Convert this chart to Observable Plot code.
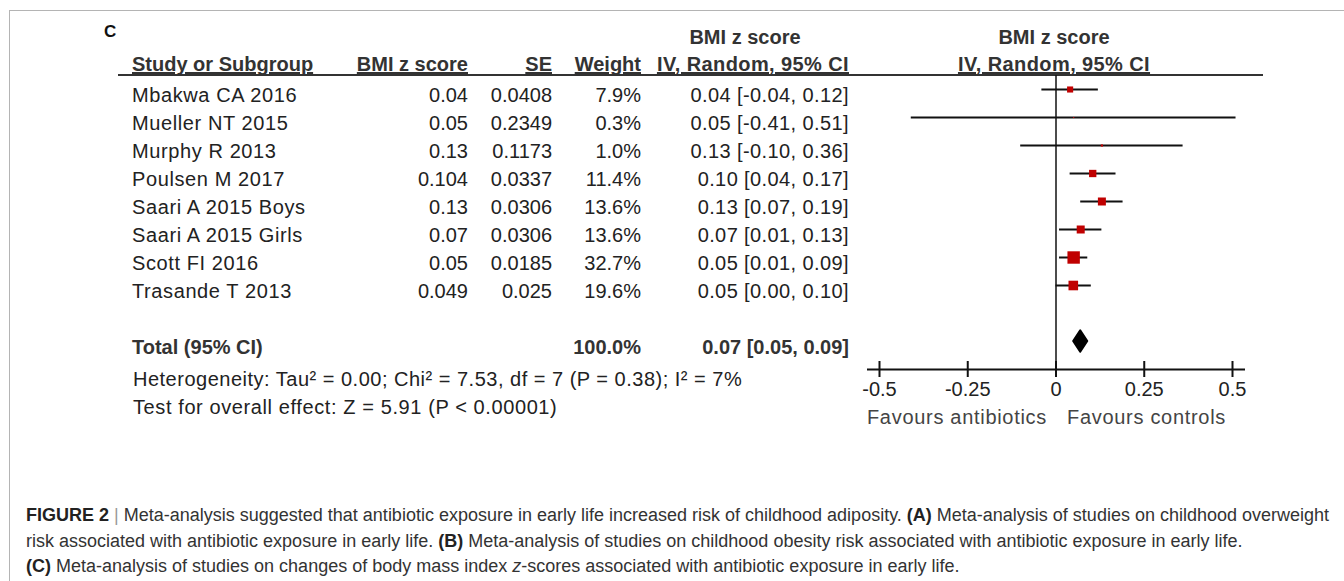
<!DOCTYPE html>
<html><head><meta charset="utf-8">
<script src="https://cdn.jsdelivr.net/npm/d3@7"></script>
<script src="https://cdn.jsdelivr.net/npm/@observablehq/plot@0.6"></script>
<style>
html,body{margin:0;padding:0;background:#fff;}
#page{position:relative;width:1344px;height:581px;overflow:hidden;font-family:"Liberation Sans",Arial,sans-serif;color:#222;}
.frameTop{position:absolute;left:9px;top:10px;width:1335px;height:1px;background:#b4b4b4;}
.frameLeft{position:absolute;left:9px;top:10px;width:1px;height:571px;background:#b4b4b4;}
.rule{position:absolute;left:118px;top:74px;width:1145px;height:2px;background:#333;}
.t{position:absolute;white-space:nowrap;font-size:20px;line-height:28px;}
.b{font-weight:bold;color:#333;}
.u{text-decoration:underline;text-decoration-thickness:2px;}
.ls{letter-spacing:0.6px;}
.ls1{letter-spacing:0.5px;}
.ls2{letter-spacing:0.4px;}
#panel{position:absolute;left:104px;top:22px;font-weight:bold;font-size:17px;line-height:20px;color:#111;}
#plot{position:absolute;left:860px;top:75px;}
#plot g[aria-label="text"] text{letter-spacing:0.7px;}
#caption{position:absolute;left:26px;top:503px;font-size:18px;line-height:25.5px;color:#333;white-space:nowrap;}
#caption .fig{font-weight:bold;color:#222;}
#caption .bar{color:#999;}
#caption b{color:#222;}
</style>
</head><body>
<div id="page">
  <div class="frameTop"></div>
  <div class="frameLeft"></div>
  <div id="panel">C</div>
  <div id="table"></div>
  <div class="rule"></div>
  <div id="plot"></div>
  <div id="caption">
    <div><span class="fig">FIGURE 2</span> <span class="bar">|</span> Meta-analysis suggested that antibiotic exposure in early life increased risk of childhood adiposity. <b>(A)</b> Meta-analysis of studies on childhood overweight</div>
    <div>risk associated with antibiotic exposure in early life. <b>(B)</b> Meta-analysis of studies on childhood obesity risk associated with antibiotic exposure in early life.</div>
    <div><b>(C)</b> Meta-analysis of studies on changes of body mass index <i>z</i>-scores associated with antibiotic exposure in early life.</div>
  </div>
</div>
<script>
// ---- data ----
const studies = ["Mbakwa CA 2016","Mueller NT 2015","Murphy R 2013","Poulsen M 2017","Saari A 2015 Boys","Saari A 2015 Girls","Scott FI 2016","Trasande T 2013"];
const bmiZ = [0.04, 0.05, 0.13, 0.104, 0.13, 0.07, 0.05, 0.049];
const se = [0.0408, 0.2349, 0.1173, 0.0337, 0.0306, 0.0306, 0.0185, 0.025];
const weights = [7.9, 0.3, 1.0, 11.4, 13.6, 13.6, 32.7, 19.6];
const ciLower = [-0.04, -0.41, -0.10, 0.04, 0.07, 0.01, 0.01, 0.00];
const ciUpper = [0.12, 0.51, 0.36, 0.17, 0.19, 0.13, 0.09, 0.10];
const pooledEstimate = 0.07;
const pooledLower = 0.05;
const pooledUpper = 0.09;
const totalWeight = 100.0;
const axisTicks = [-0.5, -0.25, 0, 0.25, 0.5];
const favourLabels = ["Favours antibiotics", "Favours controls"];
const heterogeneityText = "Heterogeneity: Tau\u00B2 = 0.00; Chi\u00B2 = 7.53, df = 7 (P = 0.38); I\u00B2 = 7%";
const overallText = "Test for overall effect: Z = 5.91 (P < 0.00001)";

// ---- layout constants ----
const nullEffect = 0;
const rowTop0 = 81, rowStep = 28;
const colStudy = 132, colBmi = 468, colSe = 552, colWeight = 641, colCi = 849;
const fmtCI = (e, l, u) => `${e.toFixed(2)} [${l.toFixed(2)}, ${u.toFixed(2)}]`;

const table = document.getElementById("table");
function place(text, x, top, align, cls) {
  const d = document.createElement("div");
  d.className = "t " + (cls || "");
  d.textContent = text;
  d.style.top = top + "px";
  if (align === "right") d.style.right = (1344 - x) + "px";
  else if (align === "center") { d.style.left = x + "px"; d.style.transform = "translateX(-50%)"; }
  else d.style.left = x + "px";
  table.appendChild(d);
}
// headers
place("BMI z score", 745, 23, "center", "b");
place("BMI z score", 1054, 23, "center", "b");
place("Study or Subgroup", colStudy, 50, "left", "b u");
place("BMI z score", colBmi, 50, "right", "b u");
place("SE", colSe, 50, "right", "b u");
place("Weight", colWeight, 50, "right", "b u");
place("IV, Random, 95% CI", colCi, 50, "right", "b u ls2");
place("IV, Random, 95% CI", 1054, 50, "center", "b u ls2");
// rows
studies.forEach((s, i) => {
  const top = rowTop0 + rowStep * i;
  place(s, colStudy, top, "left", "ls");
  place(String(bmiZ[i]), colBmi, top, "right");
  place(String(se[i]), colSe, top, "right");
  place(weights[i].toFixed(1) + "%", colWeight, top, "right");
  place(fmtCI(bmiZ[i], ciLower[i], ciUpper[i]), colCi, top, "right", "ls2");
});
const totalRow = studies.length + 1;
place("Total (95% CI)", colStudy, rowTop0 + rowStep * totalRow, "left", "b");
place(totalWeight.toFixed(1) + "%", colWeight, rowTop0 + rowStep * totalRow, "right", "b");
place(fmtCI(pooledEstimate, pooledLower, pooledUpper), colCi, rowTop0 + rowStep * totalRow, "right", "b");
place(heterogeneityText, colStudy + 1, rowTop0 + rowStep * (totalRow + 1) + 4, "left", "ls1");
place(overallText, colStudy + 1, rowTop0 + rowStep * (totalRow + 2) + 4, "left", "ls");

// ---- forest plot ----
const studyData = studies.map((s, i) => ({study: s, row: i, est: bmiZ[i], lo: ciLower[i], hi: ciUpper[i], weight: weights[i]}));
const diamondHalf = 0.38;
const diamond = [
  {y: totalRow - diamondHalf, x1: pooledEstimate, x2: pooledEstimate},
  {y: totalRow, x1: pooledLower, x2: pooledUpper},
  {y: totalRow + diamondHalf, x1: pooledEstimate, x2: pooledEstimate}
];
const yDomain = [-0.5, totalRow + 1];

const chart = Plot.plot({
  width: 400, height: 360,
  marginLeft: 7, marginRight: 15, marginTop: 0, marginBottom: 66,
  style: {background: "transparent", fontFamily: "'Liberation Sans', Arial, sans-serif", fontSize: "20px", color: "#222", overflow: "visible"},
  x: {domain: [axisTicks[0], axisTicks[axisTicks.length - 1]], insetLeft: 12, insetRight: 13},
  y: {domain: yDomain, reverse: true, axis: null},
  r: {type: "sqrt", domain: [0, d3.max(weights)], range: [0, 7]},
  marks: [
    Plot.ruleX([nullEffect], {stroke: "#111", strokeWidth: 1.5}),
    Plot.ruleY(studyData, {y: "row", x1: "lo", x2: "hi", stroke: "#111", strokeWidth: 2}),
    Plot.dot(studyData, {x: "est", y: "row", r: "weight", symbol: "square", fill: "#c00000", stroke: "none"}),
    Plot.areaX(diamond, {y: "y", x1: "x1", x2: "x2", fill: "#000", stroke: "#000", strokeWidth: 2, strokeLinejoin: "round"}),
    Plot.ruleY([yDomain[1]], {stroke: "#111", strokeWidth: 2}),
    Plot.axisX(axisTicks, {tickSize: 16, dy: -8, tickPadding: 4, tickFormat: d => String(d), label: null, fontSize: 20, strokeWidth: 2, stroke: "#111", fill: "#222"}),
    Plot.text([favourLabels[0]], {x: () => nullEffect, text: d => d, frameAnchor: "bottom", textAnchor: "end", dx: -9, dy: 54, fontSize: 20, fill: "#444"}),
    Plot.text([favourLabels[1]], {x: () => nullEffect, text: d => d, frameAnchor: "bottom", textAnchor: "start", dx: 11, dy: 54, fontSize: 20, fill: "#444"})
  ]
});
document.getElementById("plot").appendChild(chart);
</script>
</body></html>
